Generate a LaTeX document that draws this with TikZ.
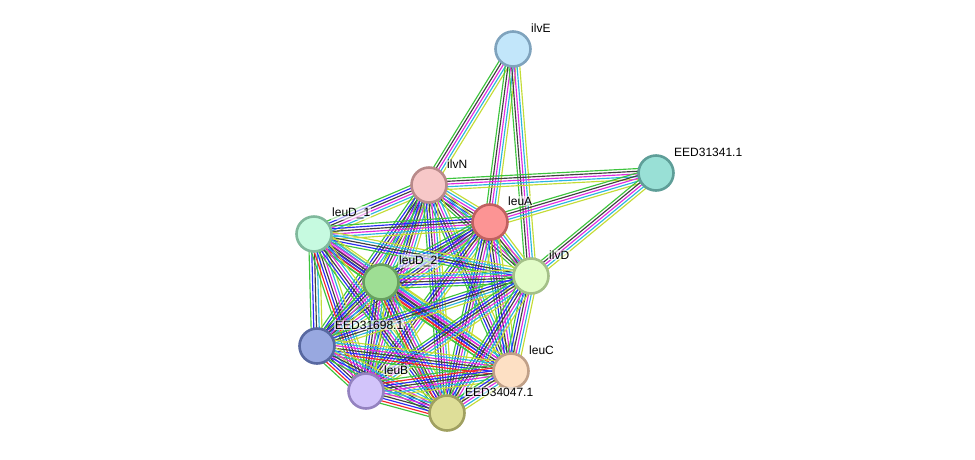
\documentclass[tikz,border=0pt]{standalone}
\usepackage{fontspec}
\setmainfont{Liberation Sans}
\usetikzlibrary{calc,backgrounds}

% evidence channels
\definecolor{nb}{HTML}{3DC43D}
\definecolor{fu}{HTML}{F5262B}
\definecolor{co}{HTML}{2B2BF5}
\definecolor{cx}{HTML}{404040}
\definecolor{ex}{HTML}{E02BE0}
\definecolor{db}{HTML}{2BB5E0}
\definecolor{tm}{HTML}{C4DC36}

% protein colours: border, fill
\definecolor{ilvEline}{HTML}{7FA3BD}  \definecolor{ilvEfill}{HTML}{C2E6FA}
\definecolor{eed41line}{HTML}{5E9E98} \definecolor{eed41fill}{HTML}{99E0D6}
\definecolor{ilvNline}{HTML}{B88A8A}  \definecolor{ilvNfill}{HTML}{F7C8C8}
\definecolor{leuAline}{HTML}{C06060}  \definecolor{leuAfill}{HTML}{FC9494}
\definecolor{leuDaline}{HTML}{80B89C} \definecolor{leuDafill}{HTML}{C6FAE0}
\definecolor{ilvDline}{HTML}{A4C088}  \definecolor{ilvDfill}{HTML}{E2FCC8}
\definecolor{leuDbline}{HTML}{68A060} \definecolor{leuDbfill}{HTML}{9EDE94}
\definecolor{eed98line}{HTML}{5868A0} \definecolor{eed98fill}{HTML}{98A8E0}
\definecolor{leuCline}{HTML}{C0A088}  \definecolor{leuCfill}{HTML}{FDE0C4}
\definecolor{leuBline}{HTML}{9482C0}  \definecolor{leuBfill}{HTML}{D2C4FA}
\definecolor{eed47line}{HTML}{A0A060} \definecolor{eed47fill}{HTML}{DEDE98}

% one bundle of parallel lines between two proteins
\newcommand\linkbundle[3]{%
  \def\nlinks{0}%
  \foreach \c in {#3}{\pgfmathtruncatemacro\tmpn{\nlinks+1}\global\let\nlinks\tmpn}%
  \foreach \c [count=\i] in {#3}{%
    \pgfmathsetmacro\off{(\i-(\nlinks+1)/2)*2.7}%
    \draw[link, \c] ($(#1.center)!\off pt!90:(#2.center)$) -- ($(#2.center)!\off pt!-90:(#1.center)$);
  }%
}

\begin{document}
\begin{tikzpicture}[
    x=1pt, y=-1pt,
    link/.style={line width=1.15pt},
    prot/.style={circle, draw=#1line, fill=#1fill, line width=2.6pt,
                 minimum size=35pt, inner sep=0pt},
    lbl/.style={font=\fontsize{12}{14}\selectfont, fill=white, fill opacity=0.6,
                text opacity=1, inner sep=1pt, anchor=west}
  ]
  \useasboundingbox (0,0) rectangle (975,459);

  \node[prot=ilvE] (ilvE) at (513,49) {};
  \node[prot=eed41] (eed41) at (656,173) {};
  \node[prot=ilvN] (ilvN) at (429,185) {};
  \node[prot=leuA] (leuA) at (490,222) {};
  \node[prot=leuDa] (leuDa) at (314,234) {};
  \node[prot=ilvD] (ilvD) at (531,276) {};
  \node[prot=leuDb] (leuDb) at (381,282) {};
  \node[prot=eed98] (eed98) at (317,346) {};
  \node[prot=leuC] (leuC) at (511,371) {};
  \node[prot=leuB] (leuB) at (366,391) {};
  \node[prot=eed47] (eed47) at (447,413) {};

  \begin{scope}[on background layer]
    % outer partners
    \linkbundle{ilvE}{ilvN}{nb,cx,ex,db,tm}
    \linkbundle{ilvE}{leuA}{nb,cx,ex,db,tm}
    \linkbundle{ilvE}{ilvD}{nb,cx,ex,db,tm}
    \linkbundle{eed41}{ilvN}{nb,cx,ex,db,tm}
    \linkbundle{eed41}{leuA}{nb,cx,ex,db,tm}
    \linkbundle{eed41}{ilvD}{nb,cx,ex,db,tm}
    % ilvN
    \linkbundle{ilvN}{leuA}{nb,co,cx,ex,db,tm}
    \linkbundle{ilvN}{leuDa}{nb,co,cx,ex,db,tm}
    \linkbundle{ilvN}{leuDb}{nb,co,cx,ex,db,tm}
    \linkbundle{ilvN}{ilvD}{nb,cx,ex,db,tm}
    \linkbundle{ilvN}{eed98}{nb,co,cx,ex,db,tm}
    \linkbundle{ilvN}{leuB}{nb,co,cx,ex,db,tm}
    \linkbundle{ilvN}{leuC}{nb,co,cx,ex,db,tm}
    \linkbundle{ilvN}{eed47}{nb,co,cx,ex,db,tm}
    % leuA
    \linkbundle{leuA}{leuDa}{nb,co,cx,ex,db,tm}
    \linkbundle{leuA}{leuDb}{nb,co,cx,ex,db,tm}
    \linkbundle{leuA}{ilvD}{nb,cx,ex,db,tm}
    \linkbundle{leuA}{eed98}{nb,co,cx,ex,db,tm}
    \linkbundle{leuA}{leuB}{nb,co,cx,ex,db,tm}
    \linkbundle{leuA}{leuC}{nb,co,cx,ex,db,tm}
    \linkbundle{leuA}{eed47}{nb,co,cx,ex,db,tm}
    % leuD_1
    \linkbundle{leuDa}{leuDb}{nb,co,cx,ex,db,tm}
    \linkbundle{leuDa}{ilvD}{nb,co,cx,db,tm}
    \linkbundle{leuDa}{eed98}{nb,co,cx,db,tm}
    \linkbundle{leuDa}{leuC}{nb,fu,co,cx,ex,db,tm}
    \linkbundle{leuDa}{leuB}{nb,fu,co,cx,ex,db,tm}
    \linkbundle{leuDa}{eed47}{nb,co,cx,ex,db,tm}
    % leuD_2
    \linkbundle{leuDb}{ilvD}{nb,co,cx,ex,db,tm}
    \linkbundle{leuDb}{eed98}{nb,co,cx,ex,db,tm}
    \linkbundle{leuDb}{leuC}{nb,fu,co,cx,ex,db,tm}
    \linkbundle{leuDb}{leuB}{nb,co,cx,ex,db,tm}
    \linkbundle{leuDb}{eed47}{nb,fu,co,cx,ex,db,tm}
    % ilvD
    \linkbundle{ilvD}{eed98}{nb,co,cx,db,tm}
    \linkbundle{ilvD}{leuC}{nb,co,cx,ex,db,tm}
    \linkbundle{ilvD}{leuB}{nb,co,cx,ex,db,tm}
    \linkbundle{ilvD}{eed47}{nb,co,cx,ex,db,tm}
    % lower group
    \linkbundle{eed98}{leuC}{nb,fu,co,cx,ex,db,tm}
    \linkbundle{eed98}{leuB}{nb,fu,co,cx,ex,db,tm}
    \linkbundle{eed98}{eed47}{nb,co,cx,ex,db,tm}
    \linkbundle{leuC}{leuB}{nb,fu,co,cx,ex,db,tm}
    \linkbundle{leuC}{eed47}{nb,co,cx,ex,db,tm}
    \linkbundle{leuB}{eed47}{nb,fu,co,cx,ex,db,tm}
  \end{scope}

  \node[lbl] (ilvE-l) at ($(ilvE)+(17,-21)$) {ilvE};
  \node[lbl] (eed41-l) at ($(eed41)+(17,-21)$) {EED31341.1};
  \node[lbl] (ilvN-l) at ($(ilvN)+(17,-21)$) {ilvN};
  \node[lbl] (leuA-l) at ($(leuA)+(17,-21)$) {leuA};
  \node[lbl] (leuDa-l) at ($(leuDa)+(17,-21)$) {leuD\_1};
  \node[lbl] (ilvD-l) at ($(ilvD)+(17,-21)$) {ilvD};
  \node[lbl] (leuDb-l) at ($(leuDb)+(17,-21)$) {leuD\_2};
  \node[lbl] (eed98-l) at ($(eed98)+(17,-21)$) {EED31698.1};
  \node[lbl] (leuC-l) at ($(leuC)+(17,-21)$) {leuC};
  \node[lbl] (leuB-l) at ($(leuB)+(17,-21)$) {leuB};
  \node[lbl] (eed47-l) at ($(eed47)+(17,-21)$) {EED34047.1};
\end{tikzpicture}
\end{document}
